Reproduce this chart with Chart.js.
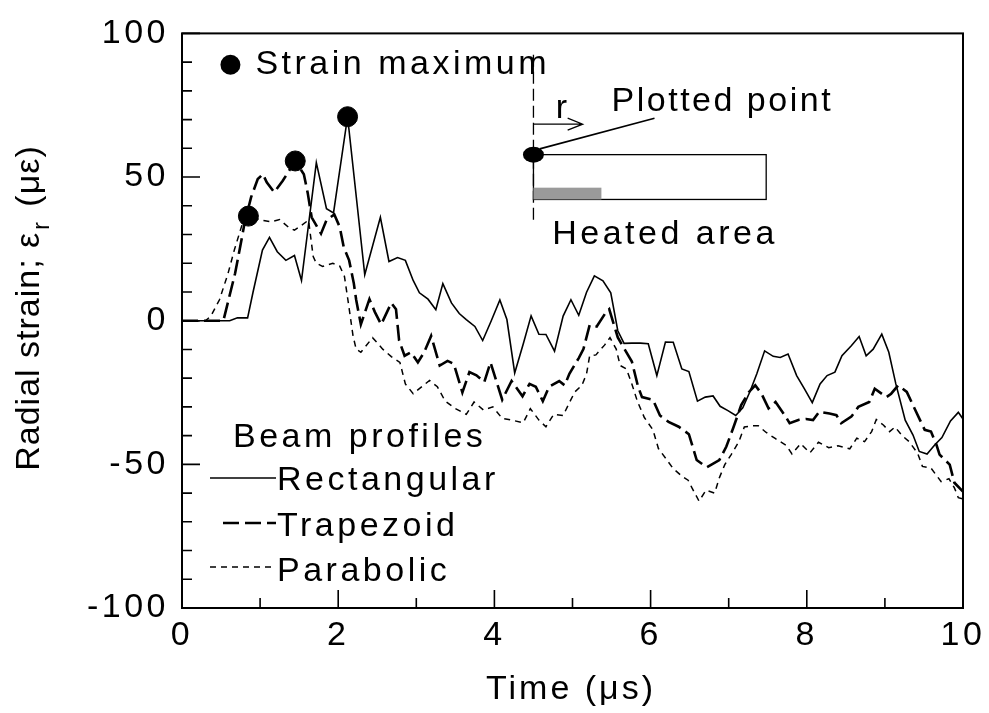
<!DOCTYPE html>
<html>
<head>
<meta charset="utf-8">
<script src="https://cdn.jsdelivr.net/npm/chart.js@4.4.1/dist/chart.umd.min.js"></script>
<style>
  html, body { margin: 0; padding: 0; background: #fff; }
  #caixa { position: relative; width: 989px; height: 713px; }
</style>
</head>
<body>
<div id="caixa"><canvas id="grafico"></canvas></div>
<script>
// Dados (tempo em µs, deformação em µε)
const rectT = [0, 0.61, 0.71, 0.84, 0.91, 1.03, 1.12, 1.22, 1.33, 1.44, 1.53, 1.72, 1.85, 1.94, 2.12, 2.34, 2.54, 2.65, 2.76, 2.86, 2.96, 3.04, 3.15, 3.25, 3.34, 3.45, 3.55, 3.64, 3.75, 3.85, 3.96, 4.07, 4.16, 4.26, 4.37, 4.47, 4.57, 4.66, 4.77, 4.88, 4.98, 5.08, 5.18, 5.28, 5.39, 5.49, 5.58, 5.66, 5.76, 5.87, 5.97, 6.08, 6.19, 6.29, 6.40, 6.49, 6.60, 6.70, 6.80, 6.89, 6.99, 7.09, 7.18, 7.27, 7.36, 7.46, 7.57, 7.66, 7.76, 7.87, 7.97, 8.07, 8.17, 8.26, 8.36, 8.45, 8.57, 8.67, 8.76, 8.85, 8.96, 9.05, 9.14, 9.26, 9.36, 9.44, 9.54, 9.64, 9.73, 9.84, 9.94, 10];
const rectY = [0, 0, 1, 1, 10, 24.6, 29, 24, 21, 22.7, 14, 55, 39, 37.5, 71, 16, 36, 20.6, 22, 21, 14, 9.7, 7.5, 3.8, 12.9, 6.2, 2.5, 0.4, -2, -6.9, 0, 7.2, 0.4, -18.2, -8, 1.7, -4.7, -4.8, -10.6, 1.6, 7.3, 1.9, 9.9, 15.6, 13.9, 9.7, -3.5, -7.9, -7.8, -7.8, -8, -19.1, -7.4, -7.5, -16.8, -17.7, -28, -26.6, -26.2, -29.8, -31.3, -33, -30.3, -24.8, -18.5, -10.5, -12.4, -12.8, -11.6, -19.1, -23.7, -28.5, -22, -19.1, -17.9, -12.2, -8.7, -5.5, -12.2, -9.9, -4.7, -11, -22, -34.6, -39.8, -45.5, -46.4, -43.2, -40.7, -34.9, -31.9, -34.2];

const trapT = [0, 0.53, 0.68, 0.745, 0.80, 0.885, 0.97, 1.035, 1.085, 1.18, 1.29, 1.45, 1.56, 1.61, 1.66, 1.78, 1.85, 1.95, 2.02, 2.07, 2.14, 2.2, 2.23, 2.29, 2.4, 2.47, 2.55, 2.68, 2.74, 2.78, 2.85, 2.93, 3.02, 3.1, 3.19, 3.3, 3.4, 3.48, 3.59, 3.68, 3.77, 3.87, 3.95, 4.1, 4.22, 4.36, 4.45, 4.53, 4.62, 4.7, 4.83, 4.9, 4.96, 5.08, 5.14, 5.22, 5.31, 5.43, 5.47, 5.58, 5.64, 5.76, 5.84, 5.89, 6.03, 6.12, 6.23, 6.36, 6.49, 6.59, 6.72, 6.88, 6.97, 7.06, 7.16, 7.26, 7.34, 7.42, 7.51, 7.6, 7.72, 7.78, 7.9, 7.99, 8.08, 8.16, 8.29, 8.38, 8.44, 8.57, 8.66, 8.8, 8.87, 9.02, 9.08, 9.17, 9.28, 9.36, 9.45, 9.51, 9.59, 9.66, 9.7, 9.83, 9.89, 10];
const trapY = [0, 0, 16.5, 25.7, 33.8, 43, 49.3, 51, 48.2, 44.7, 48.7, 55.6, 51, 44.4, 36, 30.3, 35, 37, 32.6, 25.7, 21, 13, 7.3, -1.3, 7.5, 3, -1.3, 6.2, 4, -6.9, -12.2, -11, -14.5, -11, -5.3, -15.6, -14, -15, -25, -17.9, -19, -21.4, -14.5, -27.5, -21, -26.3, -22, -23, -28, -23, -21, -22.5, -18.5, -13, -9.9, -1.5, -2, 3, 4, -5.8, -8.7, -14.2, -23, -26.6, -27.5, -33, -35.2, -36.9, -39.5, -48.5, -51, -48.5, -43.8, -37.2, -29.4, -24.8, -22.5, -25.4, -30.5, -28.3, -33, -35.7, -34.5, -34.2, -34.6, -31.7, -32.3, -32.9, -35.7, -33.4, -30, -28.3, -23.7, -26.6, -25.4, -22.5, -24.8, -29.4, -34.6, -38, -38.6, -43.2, -46.6, -50.1, -56.4, -59.5];

const paraT = [0, 0.3, 0.37, 0.48, 0.59, 0.67, 0.78, 0.85, 1.02, 1.14, 1.25, 1.36, 1.44, 1.53, 1.62, 1.68, 1.72, 1.8, 1.93, 2.02, 2.08, 2.13, 2.19, 2.23, 2.29, 2.44, 2.57, 2.68, 2.79, 2.86, 2.96, 3.17, 3.27, 3.37, 3.5, 3.64, 3.74, 3.86, 3.98, 4.1, 4.22, 4.37, 4.46, 4.57, 4.66, 4.76, 4.88, 4.97, 5.03, 5.12, 5.18, 5.22, 5.3, 5.41, 5.48, 5.56, 5.61, 5.69, 5.76, 5.83, 5.92, 6.03, 6.1, 6.19, 6.29, 6.41, 6.48, 6.53, 6.62, 6.71, 6.82, 6.88, 6.95, 7.03, 7.13, 7.2, 7.31, 7.38, 7.48, 7.59, 7.74, 7.81, 7.92, 8.04, 8.15, 8.28, 8.4, 8.55, 8.64, 8.74, 8.83, 8.89, 8.98, 9.06, 9.13, 9.22, 9.31, 9.42, 9.48, 9.59, 9.72, 9.82, 9.89, 9.94, 10];
const paraY = [0, 0, 1.6, 7.3, 16.5, 24.6, 34.4, 36.4, 35, 34.4, 35.2, 32.6, 31.5, 33.2, 35, 22.3, 20, 18.9, 20, 19, 15.4, 6.2, -5.3, -9.9, -11, -5.9, -9.9, -12.5, -14.5, -22, -25.4, -20.8, -23, -28, -30.6, -32.6, -28.3, -31.1, -30, -34, -34.6, -35.5, -30.6, -34.6, -36.9, -32.6, -33, -28, -24.8, -22.5, -18.5, -12.2, -11.9, -8.5, -5.9, -9.9, -15.6, -16.8, -22, -28, -33.7, -38, -44.5, -47.8, -51.5, -54.3, -55.5, -58.2, -62.8, -59, -60, -54.7, -50.1, -46.7, -42.1, -37, -36.6, -36.6, -38.9, -40.9, -43.5, -46.4, -42.8, -46, -42.3, -44.2, -43.5, -44.6, -40.9, -42.1, -38.6, -34.4, -36.3, -38.6, -37, -40, -42.1, -46.2, -50.7, -51.3, -56, -55, -58.2, -61.6, -62];

// Máximos de deformação (círculos pretos)
const maxT = [0.85, 1.45, 2.12];
const maxY = [36.4, 55.6, 71];

// Rótulos dos eixos
const xTicks = [0, 2, 4, 6, 8, 10];
const yTicks = [-100, -50, 0, 50, 100];
const nomesSeries = ['Rectangular', 'Trapezoid', 'Parabolic'];

const FONTE = '"Liberation Sans", Arial, sans-serif';
const TAM = 34;
const ESPACO = '3.5px';

const pares = (ts, ys) => ts.map((t, i) => ({ x: t, y: ys[i] }));

function escreve(ctx, s, x, y, tam, align) {
    ctx.font = tam + 'px ' + FONTE;
    ctx.textAlign = align || 'left';
    ctx.textBaseline = 'middle';
    ctx.fillText(s, x, y);
}

// Moldura, marcas internas, legenda, títulos e o esquema do ponto medido
const moldura = {
    id: 'moldura',
    beforeDraw(chart) {
        chart.ctx.letterSpacing = ESPACO;
    },
    afterDraw(chart) {
        const { ctx, chartArea: a, scales } = chart;
        const px = v => scales.x.getPixelForValue(v);
        const py = v => scales.y.getPixelForValue(v);
        ctx.save();
        ctx.letterSpacing = ESPACO;
        ctx.strokeStyle = '#000';
        ctx.fillStyle = '#000';

        // caixa
        ctx.lineWidth = 2;
        ctx.strokeRect(a.left, a.top, a.right - a.left, a.bottom - a.top);

        // marcas para dentro
        ctx.lineWidth = 1.6;
        ctx.beginPath();
        for (let v = -100; v <= 100; v += 10) {
            const len = v % 50 === 0 ? 18 : 10;
            ctx.moveTo(a.left, py(v));
            ctx.lineTo(a.left + len, py(v));
        }
        for (let t = 0; t <= 10; t += 1) {
            const len = t % 2 === 0 ? 18 : 10;
            ctx.moveTo(px(t), a.bottom);
            ctx.lineTo(px(t), a.bottom - len);
        }
        ctx.stroke();

        // legenda "Strain maximum"
        ctx.beginPath();
        ctx.arc(px(0.62), py(89.1), 10, 0, Math.PI * 2);
        ctx.fill();
        escreve(ctx, 'Strain maximum', px(0.94), py(89.1), TAM);

        // legenda dos perfis
        escreve(ctx, 'Beam profiles', 233, 438, TAM);
        const estilos = chart.data.datasets.slice(0, 3);
        const linhasY = [478, 523, 567];
        const textoY = [481, 527, 572];
        const inicio = [210, 223, 210];
        estilos.forEach((ds, i) => {
            ctx.setLineDash(ds.borderDash || []);
            ctx.lineWidth = ds.borderWidth;
            ctx.beginPath();
            ctx.moveTo(inicio[i], linhasY[i]);
            ctx.lineTo(276, linhasY[i]);
            ctx.stroke();
            ctx.setLineDash([]);
            escreve(ctx, nomesSeries[i], 277, textoY[i], TAM);
        });

        // esquema: ponto medido e área aquecida
        ctx.lineWidth = 1.3;
        ctx.setLineDash([12, 5]);
        ctx.beginPath();
        ctx.moveTo(px(4.5), py(92.6));
        ctx.lineTo(px(4.5), py(33.6));
        ctx.stroke();
        ctx.setLineDash([]);
        ctx.strokeRect(px(4.5), py(57.8), px(7.48) - px(4.5), py(42.2) - py(57.8));
        ctx.fillStyle = '#9a9a9a';
        ctx.fillRect(px(4.5), py(46.3), px(5.37) - px(4.5), py(42.2) - py(46.3));
        ctx.fillStyle = '#000';
        ctx.beginPath();
        ctx.ellipse(px(4.5), py(57.8), 10.5, 8, 0, 0, Math.PI * 2);
        ctx.fill();
        // seta r
        const ax0 = px(4.5), ax1 = px(5.13), ay = py(68.4);
        ctx.beginPath();
        ctx.moveTo(ax0, ay);
        ctx.lineTo(ax1, ay);
        ctx.moveTo(ax1 - 15, ay - 6);
        ctx.lineTo(ax1, ay);
        ctx.lineTo(ax1 - 15, ay + 6);
        ctx.stroke();
        escreve(ctx, 'r', px(4.88), py(73.8), TAM, 'center');
        // linha até o ponto
        ctx.lineWidth = 1.6;
        ctx.beginPath();
        ctx.moveTo(px(4.58), py(59.8));
        ctx.lineTo(px(6.05), py(70.5));
        ctx.stroke();
        ctx.letterSpacing = '2.5px';
        escreve(ctx, 'Plotted point', px(5.5), py(76.4), TAM);
        ctx.letterSpacing = ESPACO;
        escreve(ctx, 'Heated area', px(4.74), py(29.8), TAM);

        // título do eixo x
        ctx.letterSpacing = '3px';
        escreve(ctx, 'Time (μs)', 571, 690, TAM, 'center');

        // título do eixo y com subscrito
        ctx.letterSpacing = '1px';
        ctx.translate(30, 309);
        ctx.rotate(-Math.PI / 2);
        ctx.font = TAM + 'px ' + FONTE;
        const p1 = 'Radial strain; ε', p3 = ' (με)';
        const w1 = ctx.measureText(p1).width;
        const w3 = ctx.measureText(p3).width;
        ctx.font = '23px ' + FONTE;
        const w2 = ctx.measureText('r').width + 4;
        let xx = -(w1 + w2 + w3) / 2;
        escreve(ctx, p1, xx, 0, TAM);
        xx += w1 + 2;
        escreve(ctx, 'r', xx, 13, 23);
        xx += w2;
        escreve(ctx, p3, xx, 0, TAM);

        ctx.restore();
    }
};

const ctx = document.getElementById('grafico').getContext('2d');
const grafico = new Chart(ctx, {
    type: 'line',
    data: {
        datasets: [
            {
                label: nomesSeries[0],
                data: pares(rectT, rectY),
                borderColor: '#000',
                borderWidth: 1.6,
                pointRadius: 0,
                tension: 0
            },
            {
                label: nomesSeries[1],
                data: pares(trapT, trapY),
                borderColor: '#000',
                borderWidth: 2.6,
                borderDash: [16, 6],
                pointRadius: 0,
                tension: 0
            },
            {
                label: nomesSeries[2],
                data: pares(paraT, paraY),
                borderColor: '#000',
                borderWidth: 1.5,
                borderDash: [6, 5],
                pointRadius: 0,
                tension: 0
            },
            {
                label: 'Strain maximum',
                data: pares(maxT, maxY),
                showLine: false,
                pointRadius: 10,
                pointBackgroundColor: '#000',
                pointBorderColor: '#000'
            }
        ]
    },
    options: {
        responsive: true,
        maintainAspectRatio: false,
        animation: false,
        layout: { padding: { top: 28, right: 26, left: 0, bottom: 0 } },
        plugins: {
            legend: { display: false },
            tooltip: { enabled: false }
        },
        scales: {
            x: {
                type: 'linear',
                min: 0,
                max: 10,
                afterBuildTicks: s => { s.ticks = xTicks.map(v => ({ value: v })); },
                afterFit: s => { s.height = 105; },
                grid: { display: false, drawTicks: false },
                border: { display: false },
                ticks: {
                    padding: 7,
                    color: '#000',
                    maxRotation: 0,
                    autoSkip: false,
                    font: { family: FONTE, size: TAM }
                }
            },
            y: {
                type: 'linear',
                min: -100,
                max: 100,
                afterBuildTicks: s => { s.ticks = yTicks.map(v => ({ value: v })); },
                afterFit: s => { s.width = 182; },
                grid: { display: false, drawTicks: false },
                border: { display: false },
                ticks: {
                    padding: 13,
                    color: '#000',
                    font: { family: FONTE, size: TAM }
                }
            }
        }
    },
    plugins: [moldura]
});
</script>
</body>
</html>
